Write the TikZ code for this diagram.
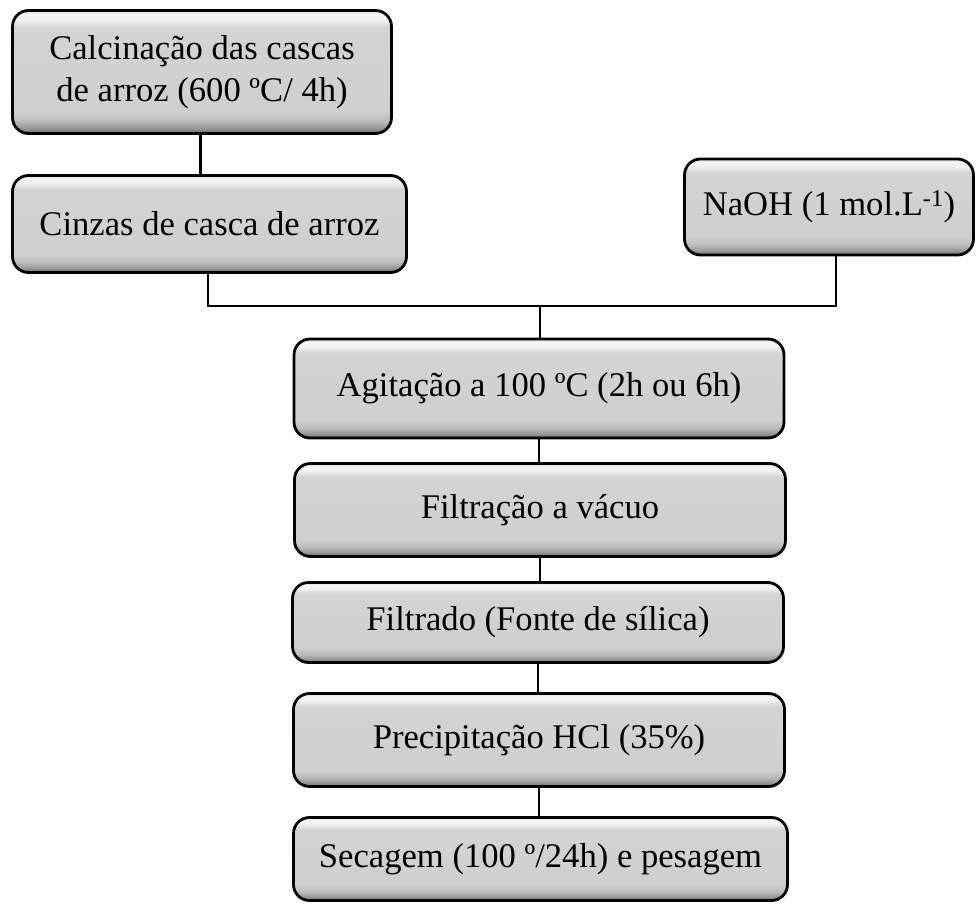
\documentclass[tikz,border=0pt]{standalone}
\usepackage{fontspec}
\setmainfont{Liberation Serif}
\pgfdeclareverticalshading{bevel}{100bp}{%
  color(0bp)=(black!60);
  color(25bp)=(black!60);
  color(27bp)=(black!42);
  color(30bp)=(black!27);
  color(34bp)=(black!19);
  color(68bp)=(black!17);
  color(71bp)=(black!6);
  color(73.5bp)=(black!4);
  color(75bp)=(black!15);
  color(100bp)=(black!15)}
\tikzset{
  box/.style={draw=black, line width=2.8pt, rounded corners=16pt, shading=bevel,
    align=center, inner sep=0pt,
    font=\fontsize{34.6}{42}\selectfont},
  link/.style={draw=black, line width=2.8pt}
}
\begin{document}
\begin{tikzpicture}[x=1pt,y=-1pt]
\useasboundingbox (0,0) rectangle (976,904);
\node[box, minimum width=379pt, minimum height=123pt] (b1) at (202,72) {Calcinação das cascas\\de arroz (600 ºC/ 4h)};
\node[box, minimum width=394pt, minimum height=97pt] (b2) at (209.5,224) {Cinzas de casca de arroz};
\node[box, minimum width=289pt, minimum height=96pt] (naoh) at (829,207) {NaOH (1 mol.L\textsuperscript{-1})};
\node[box, minimum width=490pt, minimum height=99pt] (b3) at (539,388.5) {Agitação a 100 ºC (2h ou 6h)};
\node[box, minimum width=491pt, minimum height=93pt] (b4) at (540,510) {Filtração a vácuo};
\node[box, minimum width=491pt, minimum height=80pt] (b5) at (538,622.5) {Filtrado (Fonte de sílica)};
\node[box, minimum width=491pt, minimum height=93pt] (b6) at (539,740) {Precipitação HCl (35\%)};
\node[box, minimum width=494pt, minimum height=83pt] (b7) at (540.5,859) {Secagem (100 º/24h) e pesagem};
\coordinate (J) at (540,306);
\draw[link] ([xshift=-1.5pt]b1.south) -- ([xshift=-1.5pt]b1.south |- b2.north);
\draw[link] ([xshift=-1.5pt]b2.south) |- (J);
\draw[link] ([xshift=7pt]naoh.south) |- (J);
\draw[link] (J) -- (J |- b3.north);
\draw[link] (b3.south) -- (b3.south |- b4.north);
\draw[link] (b4.south) -- (b4.south |- b5.north);
\draw[link] (b5.south) -- (b5.south |- b6.north);
\draw[link] (b6.south) -- (b6.south |- b7.north);
\end{tikzpicture}
\end{document}
